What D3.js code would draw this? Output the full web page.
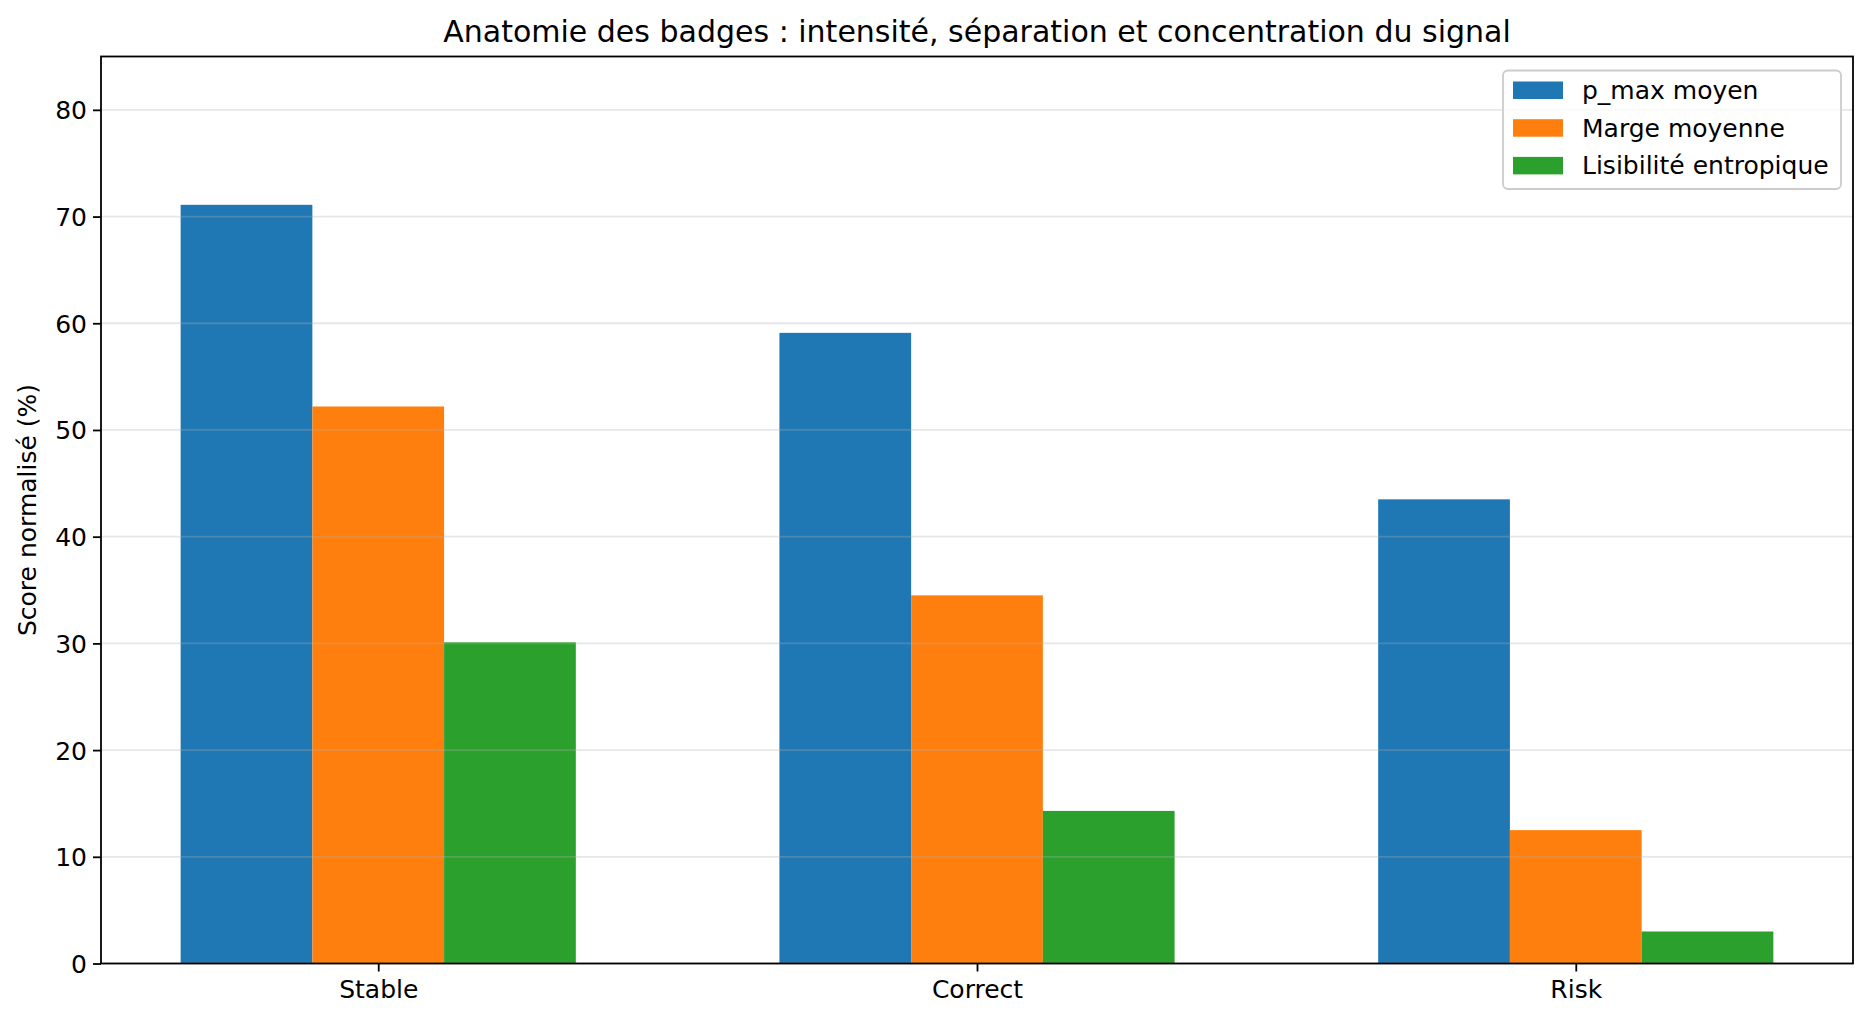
<!DOCTYPE html>
<html>
<head>
<meta charset="utf-8">
<script src="https://cdn.jsdelivr.net/npm/d3@7"></script>
<style>
  body { margin: 0; background: #fff; }
  svg text { font-family: "DejaVu Sans", sans-serif; fill: #000; }
</style>
</head>
<body>
<svg id="chart" width="1870" height="1023"></svg>
<script>
// data
const categories = ['Stable', 'Correct', 'Risk'];
const seriesNames = ['p_max moyen', 'Marge moyenne', 'Lisibilité entropique'];
const seriesColors = ['#1f77b4', '#ff7f0e', '#2ca02c'];
const pmaxValues = [71.1, 59.1, 43.5];
const margeValues = [52.2, 34.5, 12.5];
const lisibiliteValues = [30.1, 14.3, 3.0];
const yTicks = [0, 10, 20, 30, 40, 50, 60, 70, 80];

const series = [pmaxValues, margeValues, lisibiliteValues];

const margin = { top: 56.5, right: 17, bottom: 59.5, left: 101 };
const W = 1870, H = 1023;
const barWidth = 0.22;
const fontSize = '25px';

const svg = d3.select('#chart');

// matplotlib-like x range: bars from -1.5w to 2+1.5w, plus 5% margins
const lo = -1.5 * barWidth, hi = categories.length - 1 + 1.5 * barWidth;
const pad = (hi - lo) * 0.05;
const x = d3.scaleLinear()
    .domain([lo - pad, hi + pad])
    .range([margin.left, W - margin.right]);
const y = d3.scaleLinear()
    .domain([0, 85])
    .range([H - margin.bottom, margin.top]);

// bars
series.forEach((vals, s) => {
    svg.append('g').selectAll('rect')
        .data(vals)
        .enter().append('rect')
        .attr('x', (d, i) => x(i + (s - 1) * barWidth - barWidth / 2))
        .attr('width', x(barWidth) - x(0))
        .attr('y', d => y(d))
        .attr('height', d => y(0) - y(d))
        .attr('fill', seriesColors[s]);
});

// grid on top of the bars (matplotlib default zorder)
svg.append('g').selectAll('line')
    .data(yTicks)
    .enter().append('line')
    .attr('x1', margin.left).attr('x2', W - margin.right)
    .attr('y1', d => y(d)).attr('y2', d => y(d))
    .attr('stroke', '#b0b0b0')
    .attr('stroke-opacity', 0.3)
    .attr('stroke-width', 1.8);

// axes
const yAxis = d3.axisLeft(y).tickValues(yTicks).tickSize(8).tickPadding(6).tickFormat(d3.format('d'));
const gy = svg.append('g')
    .attr('transform', `translate(${margin.left},0)`)
    .call(yAxis);
const xAxis = d3.axisBottom(x).tickValues(d3.range(categories.length)).tickSize(8).tickPadding(7)
    .tickFormat(i => categories[i]);
const gx = svg.append('g')
    .attr('transform', `translate(0,${H - margin.bottom})`)
    .call(xAxis);

[gx, gy].forEach(g => {
    g.select('.domain').remove();
    g.selectAll('.tick line').attr('stroke', '#000').attr('stroke-width', 1.8);
    g.selectAll('.tick text').style('font-size', fontSize).attr('fill', '#000');
});
gy.selectAll('.tick text').attr('dy', '0.36em');
gx.selectAll('.tick text').attr('dy', '0.76em');

// frame
svg.append('rect')
    .attr('x', margin.left).attr('y', margin.top)
    .attr('width', W - margin.left - margin.right)
    .attr('height', H - margin.top - margin.bottom)
    .attr('fill', 'none')
    .attr('stroke', '#000')
    .attr('stroke-width', 1.8);

// title and y label
svg.append('text')
    .attr('x', (margin.left + W - margin.right) / 2)
    .attr('y', 41.5)
    .attr('text-anchor', 'middle')
    .style('font-size', '30px')
    .text('Anatomie des badges : intensité, séparation et concentration du signal');

svg.append('text')
    .attr('transform', `translate(36,${(margin.top + H - margin.bottom) / 2}) rotate(-90)`)
    .attr('text-anchor', 'middle')
    .style('font-size', fontSize)
    .text('Score normalisé (%)');

// legend
const legend = svg.append('g').attr('transform', 'translate(1503,70.5)');
legend.append('rect')
    .attr('width', 338).attr('height', 118.5)
    .attr('rx', 5).attr('ry', 5)
    .attr('fill', '#fff').attr('fill-opacity', 0.8)
    .attr('stroke', '#cccccc').attr('stroke-width', 1.8);

seriesNames.forEach((name, i) => {
    const row = legend.append('g').attr('transform', `translate(0,${19.5 + i * 37.7})`);
    row.append('rect')
        .attr('x', 10).attr('y', -8.5)
        .attr('width', 50).attr('height', 17.5)
        .attr('fill', seriesColors[i]);
    row.append('text')
        .attr('x', 79).attr('y', 0)
        .attr('dy', '0.36em')
        .style('font-size', fontSize)
        .text(name);
});
</script>
</body>
</html>
